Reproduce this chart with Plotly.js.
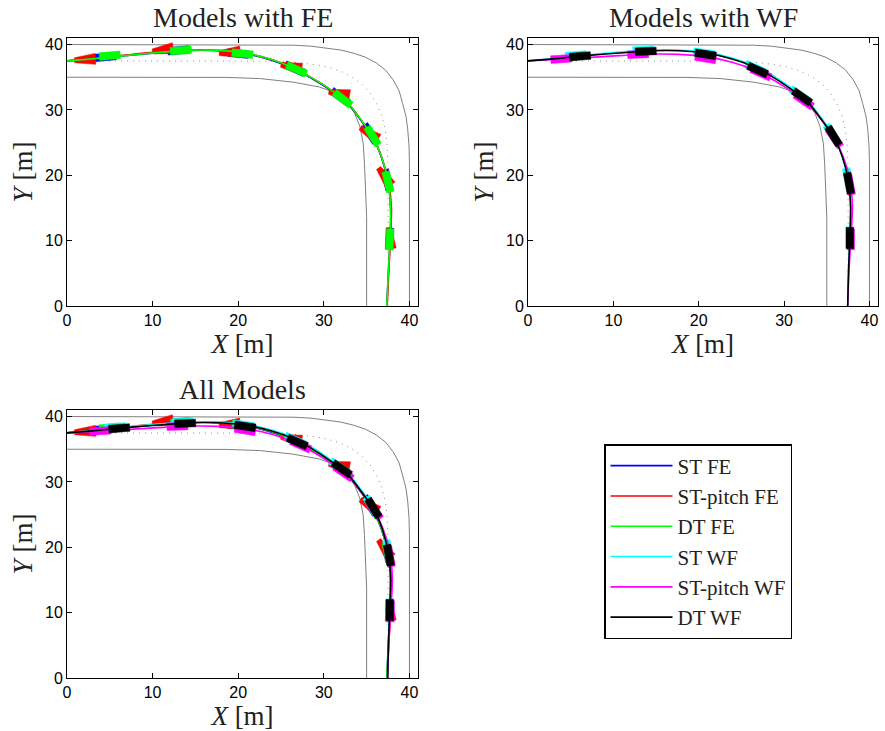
<!DOCTYPE html>
<html><head><meta charset="utf-8">
<script src="https://cdn.plot.ly/plotly-3.0.1.min.js"></script>
<style>html,body{margin:0;padding:0;background:#fff}</style>
</head><body><div id="chart" style="width:885px;height:731px"></div>
<script>
// ---------- road geometry ----------
const outerX = [0, 20, 24, 26.4, 28.5, 30.3, 32, 33.4, 34.8, 36.1, 37.2, 38.1, 38.8, 39.2, 39.6, 39.8, 39.95, 40, 40];
const outerY = [40, 40, 39.97, 39.9, 39.75, 39.5, 39.15, 38.7, 38.1, 37.2, 36.1, 34.6, 32.9, 31.0, 29.0, 27.0, 24.5, 21.9, 0];
const innerX = [0, 15, 18.6, 22.5, 26.4, 29.5, 31.4, 32.6, 33.6, 34.2, 34.6, 34.75, 34.9, 35, 35];
const innerY = [35, 35, 34.97, 34.8, 34.25, 33.5, 32.6, 31.3, 29.5, 27.5, 24.9, 21.8, 17.8, 13.7, 0];
const centerX = [0, 20, 24, 26.4, 28.5, 30.3, 32, 33.2, 34.4, 35.4, 36.2, 36.8, 37.2, 37.4, 37.5, 37.5];
const centerY = [37.5, 37.5, 37.45, 37.3, 37.0, 36.6, 35.9, 35.1, 34.0, 32.6, 30.9, 29.0, 26.8, 24.3, 21, 0];

// ---------- trajectories ----------
const stFeX = [0, 3, 6.8, 10.7, 14.6, 17.7, 20.8, 23.9, 26.3, 28.6, 30.9, 32.9, 34.4, 35.8, 36.8, 37.5, 37.8, 37.75, 37.55, 37.35];
const stFeY = [37.5, 37.8, 38.3, 38.75, 39.1, 39.05, 38.6, 37.6, 36.4, 34.8, 32.9, 30.8, 28.3, 25.6, 22.5, 18.9, 14.9, 10.4, 5.4, 0];
const stpFeX = [0, 3, 6.8, 10.7, 14.6, 17.7, 20.8, 23.9, 26.3, 28.6, 30.9, 32.9, 34.4, 35.8, 36.8, 37.55, 37.9, 37.8, 37.6, 37.4];
const stpFeY = [37.5, 37.85, 38.4, 38.9, 39.2, 39.1, 38.7, 37.7, 36.5, 34.9, 33.0, 30.9, 28.4, 25.7, 22.6, 19.0, 15.0, 10.5, 5.5, 0];
const dtFeX = [0, 3, 6.8, 10.7, 14.6, 17.7, 20.8, 23.9, 26.3, 28.6, 30.9, 32.9, 34.4, 35.8, 36.8, 37.5, 37.8, 37.75, 37.55, 37.35];
const dtFeY = [37.5, 37.8, 38.3, 38.8, 39.15, 39.1, 38.7, 37.7, 36.5, 34.9, 33.0, 30.9, 28.4, 25.7, 22.6, 19.0, 15.0, 10.5, 5.5, 0];
const stWfX = [0, 3, 6.8, 10.7, 14.6, 17.7, 20.8, 23.9, 26.3, 28.6, 30.9, 32.9, 34.4, 35.8, 36.8, 37.5, 37.75, 37.7, 37.55, 37.45];
const stWfY = [37.5, 37.85, 38.4, 38.85, 39.15, 39.15, 38.8, 37.95, 36.85, 35.3, 33.3, 31.2, 28.7, 26.1, 23.0, 19.4, 15.2, 10.6, 5.5, 0];
const stpWfX = [0, 3, 6.8, 10.7, 14.6, 17.7, 20.8, 23.9, 26.3, 28.6, 30.9, 32.9, 34.4, 35.8, 36.9, 37.7, 38.0, 37.85, 37.6, 37.45];
const stpWfY = [37.5, 37.7, 38.0, 38.3, 38.55, 38.5, 38.15, 37.3, 36.2, 34.7, 32.8, 30.8, 28.4, 25.8, 22.9, 19.4, 15.3, 10.6, 5.5, 0];
const dtWfX = [0, 3, 6.8, 10.7, 14.6, 17.7, 20.8, 23.9, 26.3, 28.6, 30.9, 32.9, 34.4, 35.8, 36.8, 37.5, 37.8, 37.7, 37.55, 37.45];
const dtWfY = [37.5, 37.8, 38.3, 38.7, 39.05, 39.05, 38.7, 37.8, 36.7, 35.1, 33.1, 31.0, 28.5, 25.9, 22.9, 19.3, 15.2, 10.6, 5.5, 0];

// ---------- vehicle snapshots: centre x, centre y, heading (deg) ----------
const stFeSX = [4.5, 13.0, 20.0, 26.6, 31.9, 35.4, 37.4, 37.7];
const stFeSY = [38.1, 39.1, 38.6, 36.3, 32.0, 26.4, 19.3, 10.3];
const stFeSH = [7, 6, -8, -30, -44, -64, -80, -91];
const stpFeSX = [2.1, 11.2, 19.0, 26.2, 31.8, 35.3, 37.1, 37.7];
const stpFeSY = [37.7, 39.2, 38.8, 36.6, 32.5, 26.4, 19.8, 10.4];
const stpFeSH = [5, 12, 6, -14, -12, -40, -62, -86];
const dtFeSX = [5.0, 13.3, 20.5, 26.8, 32.2, 35.7, 37.5, 37.7];
const dtFeSY = [38.3, 39.1, 38.6, 36.2, 31.7, 26.0, 19.0, 10.2];
const dtFeSH = [7, 6, -8, -30, -45, -65, -80, -92];
const stWfSX = [5.6, 13.5, 20.6, 26.6, 31.8, 35.6, 37.5, 37.7];
const stWfSY = [38.35, 39.15, 38.7, 36.4, 32.3, 26.3, 19.5, 10.5];
const stWfSH = [6, 3, -10, -30, -42, -64, -82, -90];
const stpWfSX = [3.9, 12.9, 20.8, 27.3, 32.3, 35.9, 37.7, 37.8];
const stpWfSY = [37.8, 38.5, 37.9, 35.6, 31.4, 25.7, 18.6, 10.2];
const stpWfSH = [5, 3, -12, -30, -42, -62, -82, -90];
const dtWfSX = [6.1, 13.8, 20.8, 26.9, 32.1, 35.8, 37.6, 37.7];
const dtWfSY = [38.2, 38.95, 38.5, 36.1, 32.0, 26.0, 18.8, 10.4];
const dtWfSH = [6, 3, -11, -30, -42, -65, -82, -90];

const legendNames = ['ST FE', 'ST-pitch FE', 'DT FE', 'ST WF', 'ST-pitch WF', 'DT WF'];
const modelColors = ['#0000ff', '#ff0000', '#00ff00', '#00ffff', '#ff00ff', '#000000'];
const xTicks = [0, 10, 20, 30, 40];
const yTicks = [0, 10, 20, 30, 40];

// ---------- layout geometry ----------
const W = 885, H = 731;
const XR = [0, 41], YR = [0, 41];
const domX1 = [67 / W, 418 / W], domX2 = [528 / W, 878 / W];
const domYtop = [1 - 306 / H, 1 - 38 / H], domYbot = [1 - 678 / H, 1 - 410 / H];
const kx = W * (domX1[1] - domX1[0]) / (XR[1] - XR[0]);   // px per metre in x
const ky = H * (domYtop[1] - domYtop[0]) / (YR[1] - YR[0]); // px per metre in y

const models = [
  {x: stFeX, y: stFeY, sx: stFeSX, sy: stFeSY, sh: stFeSH, wedge: false},
  {x: stpFeX, y: stpFeY, sx: stpFeSX, sy: stpFeSY, sh: stpFeSH, wedge: true},
  {x: dtFeX, y: dtFeY, sx: dtFeSX, sy: dtFeSY, sh: dtFeSH, wedge: false},
  {x: stWfX, y: stWfY, sx: stWfSX, sy: stWfSY, sh: stWfSH, wedge: false},
  {x: stpWfX, y: stpWfY, sx: stpWfSX, sy: stpWfSY, sh: stpWfSH, wedge: false},
  {x: dtWfX, y: dtWfY, sx: dtWfSX, sy: dtWfSY, sh: dtWfSH, wedge: false}
];

// footprint polygons built from snapshot data (size in screen px is a style)
function footprints(m) {
  const L = 21, wr = m.wedge ? 2.5 : 3.8, wf = m.wedge ? 5.5 : 3.8;
  const px = [], py = [];
  for (let i = 0; i < m.sx.length; i++) {
    const h = m.sh[i] * Math.PI / 180;
    let ux = Math.cos(h) * kx, uy = Math.sin(h) * ky;
    const n = Math.hypot(ux, uy); ux /= n; uy /= n;
    const nx = -uy, ny = ux;
    const pts = [
      [-L / 2 * ux + wr * nx, -L / 2 * uy + wr * ny],
      [ L / 2 * ux + wf * nx,  L / 2 * uy + wf * ny],
      [ L / 2 * ux - wf * nx,  L / 2 * uy - wf * ny],
      [-L / 2 * ux - wr * nx, -L / 2 * uy - wr * ny]
    ];
    pts.forEach(p => { px.push(m.sx[i] + p[0] / kx); py.push(m.sy[i] + p[1] / ky); });
    px.push(m.sx[i] + pts[0][0] / kx); py.push(m.sy[i] + pts[0][1] / ky);
    px.push(null); py.push(null);
  }
  return {px, py};
}

const traces = [];
function addRoad(xa, ya) {
  traces.push({x: outerX, y: outerY, xaxis: xa, yaxis: ya, mode: 'lines', line: {color: '#808080', width: 1}, showlegend: false, hoverinfo: 'skip'});
  traces.push({x: innerX, y: innerY, xaxis: xa, yaxis: ya, mode: 'lines', line: {color: '#808080', width: 1}, showlegend: false, hoverinfo: 'skip'});
  traces.push({x: centerX, y: centerY, xaxis: xa, yaxis: ya, mode: 'lines', line: {color: '#909090', width: 1, dash: '1px,5px'}, showlegend: false, hoverinfo: 'skip'});
}
function addModel(idx, xa, ya, legend) {
  const m = models[idx];
  traces.push({x: m.x, y: m.y, xaxis: xa, yaxis: ya, mode: 'lines', name: legendNames[idx],
    line: {color: modelColors[idx], width: 1.6, shape: 'spline', smoothing: 0.6}, showlegend: legend, legendrank: idx + 1});
  const f = footprints(m);
  traces.push({x: f.px, y: f.py, xaxis: xa, yaxis: ya, mode: 'lines', fill: 'toself', fillcolor: modelColors[idx],
    line: {color: modelColors[idx], width: 0.5}, showlegend: false, hoverinfo: 'skip'});
}

addRoad('x', 'y');
[0, 1, 2].forEach(i => addModel(i, 'x', 'y', false));
addRoad('x2', 'y2');
[3, 4, 5].forEach(i => addModel(i, 'x2', 'y2', false));
addRoad('x3', 'y3');
[0, 1, 2, 3, 4, 5].forEach(i => addModel(i, 'x3', 'y3', true));

const serif = 'Liberation Serif, Times New Roman, serif';
const sans = 'Liberation Sans, Arial, sans-serif';
function xax(dom, anchor) {
  return {domain: dom, anchor: anchor, range: XR, tickvals: xTicks, ticktext: xTicks.map(String), ticks: 'inside', ticklen: 5, tickcolor: '#000',
    showline: true, mirror: 'ticks', linecolor: '#000', linewidth: 1, showgrid: false, zeroline: false,
    tickfont: {family: sans, size: 16, color: '#000'},
    title: {text: '<i>X</i> [m]', font: {family: serif, size: 27, color: '#222'}, standoff: 2}};
}
function yax(dom, anchor) {
  return {domain: dom, anchor: anchor, range: YR, tickvals: yTicks, ticktext: yTicks.map(String), ticks: 'inside', ticklen: 5, tickcolor: '#000',
    showline: true, mirror: 'ticks', linecolor: '#000', linewidth: 1, showgrid: false, zeroline: false,
    tickfont: {family: sans, size: 16, color: '#000'},
    title: {text: '<i>Y</i> [m]', font: {family: serif, size: 27, color: '#222'}, standoff: 4}};
}

const titleFont = {family: serif, size: 28, color: '#222'};
const layout = {
  width: W, height: H, margin: {l: 0, r: 0, t: 0, b: 0}, paper_bgcolor: '#fff', plot_bgcolor: '#fff',
  xaxis: xax(domX1, 'y'), yaxis: yax(domYtop, 'x'),
  xaxis2: xax(domX2, 'y2'), yaxis2: yax(domYtop, 'x2'),
  xaxis3: xax(domX1, 'y3'), yaxis3: yax(domYbot, 'x3'),
  showlegend: true,
  legend: {x: 604 / W, y: 1 - 444 / H, xanchor: 'left', yanchor: 'top', bgcolor: '#fff', bordercolor: '#000', borderwidth: 1.5,
    font: {family: serif, size: 21, color: '#222'}, traceorder: 'normal', itemwidth: 62, tracegroupgap: 0},
  annotations: [
    {text: 'Models with FE', x: (domX1[0] + domX1[1]) / 2, y: 1 - 17 / H, xref: 'paper', yref: 'paper', xanchor: 'center', yanchor: 'middle', showarrow: false, font: titleFont},
    {text: 'Models with WF', x: (domX2[0] + domX2[1]) / 2, y: 1 - 17 / H, xref: 'paper', yref: 'paper', xanchor: 'center', yanchor: 'middle', showarrow: false, font: titleFont},
    {text: 'All Models', x: (domX1[0] + domX1[1]) / 2, y: 1 - 389 / H, xref: 'paper', yref: 'paper', xanchor: 'center', yanchor: 'middle', showarrow: false, font: titleFont}
  ]
};

Plotly.newPlot('chart', traces, layout, {displayModeBar: false, staticPlot: true});
</script></body></html>
